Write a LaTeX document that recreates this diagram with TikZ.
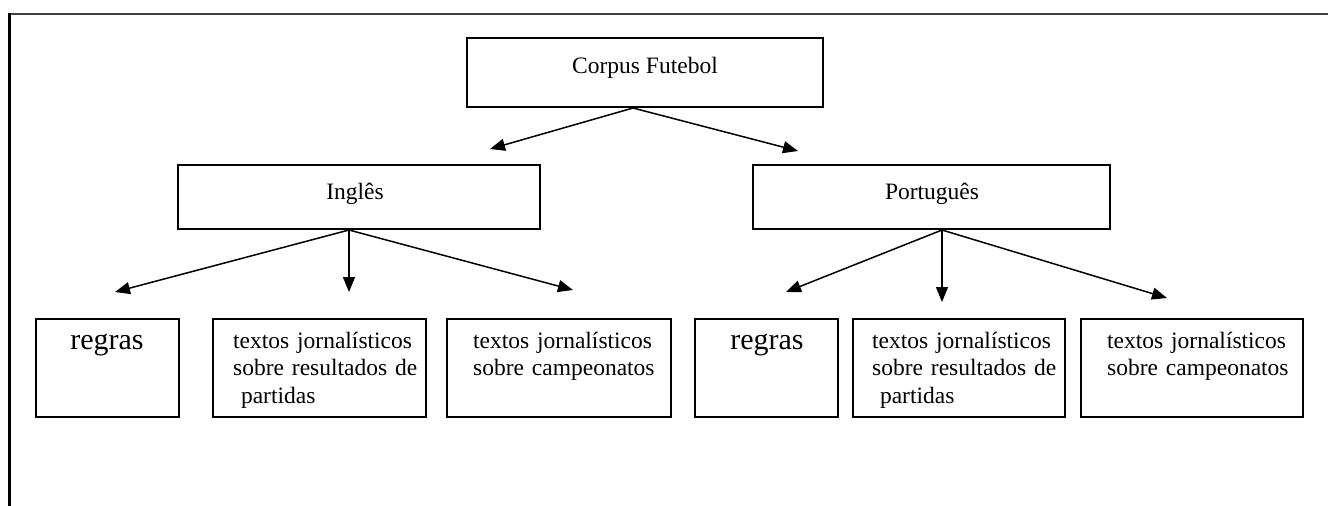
\documentclass[tikz,border=0pt]{standalone}
\usepackage{fontspec}
\setmainfont{Liberation Serif}
\usetikzlibrary{arrows.meta}
\begin{document}
\begin{tikzpicture}[x=1pt,y=-1pt,
  box/.style={draw, line width=2pt, inner sep=0pt, rectangle},
  arr/.style={line width=1.5pt, -{Triangle[length=15pt,width=12pt]}},
  txt/.style={inner sep=0pt, font=\fontsize{23.5}{27.5}\selectfont},
  big/.style={inner sep=0pt, font=\fontsize{30}{34}\selectfont},
  multi/.style={txt, text width=220pt, align=left, anchor=base west}]
\useasboundingbox (0,0) rectangle (1328,506);
% outer frame
\draw[line width=2pt, black!75] (8,14) -- (1328,14);
\draw[line width=3pt] (9.5,13) -- (9.5,506);
% top level
\node[box, minimum width=356pt, minimum height=69pt] (corpus) at (645,72.5) {};
\node[txt, anchor=base] (tcorpus) at (645,73) {Corpus Futebol};
% second level
\node[box, minimum width=362pt, minimum height=64pt] (ing) at (359,197) {};
\node[txt, anchor=base] (ting) at (355,199) {Inglês};
\node[box, minimum width=357pt, minimum height=64pt] (por) at (931.5,197) {};
\node[txt, anchor=base] (tpor) at (932,199) {Português};
% third level boxes
\node[box, minimum width=143pt, minimum height=98pt] (b1) at (107.5,368) {};
\node[box, minimum width=213pt, minimum height=98pt] (b2) at (319.5,368) {};
\node[box, minimum width=224pt, minimum height=98pt] (b3) at (559,368) {};
\node[box, minimum width=143pt, minimum height=98pt] (b4) at (766.5,368) {};
\node[box, minimum width=212pt, minimum height=98pt] (b5) at (959,368) {};
\node[box, minimum width=222pt, minimum height=98pt] (b6) at (1192,368) {};
% third level texts
\node[big, anchor=base] (t1) at (107,349) {regras};
\node[multi] (t2) at (233,348) {textos jornalísticos\\sobre resultados de\\~partidas};
\node[multi] (t3) at (473,348) {textos jornalísticos\\sobre campeonatos};
\node[big, anchor=base] (t4) at (767,349) {regras};
\node[multi] (t5) at (872,348) {textos jornalísticos\\sobre resultados de\\~partidas};
\node[multi] (t6) at (1107,348) {textos jornalísticos\\sobre campeonatos};
% arrow roots and tips
\coordinate (rc) at ([xshift=-12pt]corpus.south);
\coordinate (ri) at ([xshift=-10pt]ing.south);
\coordinate (rp) at ([xshift=10.5pt]por.south);
\coordinate (tc1) at (490,149);
\coordinate (tc2) at (798,151);
\coordinate (ti1) at (115,292);
\coordinate (ti2) at (349,292);
\coordinate (ti3) at (573,290);
\coordinate (tp1) at (786,292);
\coordinate (tp2) at (942,302);
\coordinate (tp3) at (1167,298);
\draw[arr] (rc) -- (tc1);
\draw[arr] (rc) -- (tc2);
\draw[arr] (ri) -- (ti1);
\draw[arr] (ri) -- (ti2);
\draw[arr] (ri) -- (ti3);
\draw[arr] (rp) -- (tp1);
\draw[arr] (rp) -- (tp2);
\draw[arr] (rp) -- (tp3);
\end{tikzpicture}
\end{document}
